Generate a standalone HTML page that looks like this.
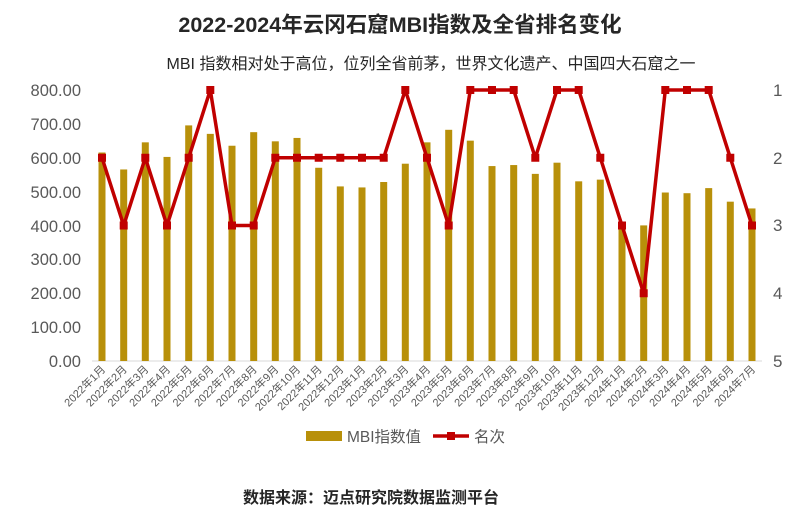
<!DOCTYPE html>
<html><head><meta charset="utf-8"><style>
html,body{margin:0;padding:0;background:#fff;}
svg text{font-family:"Liberation Sans","Noto Sans CJK SC",sans-serif;}
</style></head><body>
<svg width="800" height="513" viewBox="0 0 800 513" xmlns="http://www.w3.org/2000/svg">
<rect width="800" height="513" fill="#fff"/>
<text x="400" y="32" text-anchor="middle" font-size="21.5" font-weight="bold" fill="#262626">2022-2024年云冈石窟MBI指数及全省排名变化</text>
<text x="431" y="69" text-anchor="middle" font-size="16" fill="#262626">MBI 指数相对处于高位，位列全省前茅，世界文化遗产、中国四大石窟之一</text>
<g font-size="16.5" fill="#595959" text-anchor="end">
<text x="81" y="96">800.00</text><text x="81" y="130">700.00</text><text x="81" y="164">600.00</text><text x="81" y="198">500.00</text><text x="81" y="232">400.00</text><text x="81" y="265">300.00</text><text x="81" y="299">200.00</text><text x="81" y="333">100.00</text><text x="81" y="367">0.00</text>
</g>
<g font-size="17" fill="#595959">
<text x="773" y="96">1</text><text x="773" y="164">2</text><text x="773" y="231">3</text><text x="773" y="299">4</text><text x="773" y="367">5</text>
</g>
<line x1="92" y1="361" x2="762" y2="361" stroke="#d9d9d9" stroke-width="1"/>
<g transform="translate(0,361) scale(1,-0.339)" fill="#B8900A">
<rect x="98.5" y="0" width="7" height="615"/>
<rect x="120.2" y="0" width="7" height="565"/>
<rect x="141.8" y="0" width="7" height="645"/>
<rect x="163.5" y="0" width="7" height="602"/>
<rect x="185.2" y="0" width="7" height="695"/>
<rect x="206.8" y="0" width="7" height="670"/>
<rect x="228.5" y="0" width="7" height="635"/>
<rect x="250.2" y="0" width="7" height="675"/>
<rect x="271.8" y="0" width="7" height="648"/>
<rect x="293.5" y="0" width="7" height="658"/>
<rect x="315.2" y="0" width="7" height="570"/>
<rect x="336.8" y="0" width="7" height="515"/>
<rect x="358.5" y="0" width="7" height="512"/>
<rect x="380.2" y="0" width="7" height="528"/>
<rect x="401.8" y="0" width="7" height="582"/>
<rect x="423.5" y="0" width="7" height="645"/>
<rect x="445.2" y="0" width="7" height="682"/>
<rect x="466.8" y="0" width="7" height="650"/>
<rect x="488.5" y="0" width="7" height="575"/>
<rect x="510.2" y="0" width="7" height="578"/>
<rect x="531.8" y="0" width="7" height="552"/>
<rect x="553.5" y="0" width="7" height="585"/>
<rect x="575.2" y="0" width="7" height="530"/>
<rect x="596.8" y="0" width="7" height="535"/>
<rect x="618.5" y="0" width="7" height="400"/>
<rect x="640.2" y="0" width="7" height="400"/>
<rect x="661.8" y="0" width="7" height="497"/>
<rect x="683.5" y="0" width="7" height="495"/>
<rect x="705.2" y="0" width="7" height="510"/>
<rect x="726.8" y="0" width="7" height="470"/>
<rect x="748.5" y="0" width="7" height="450"/>
</g>
<polyline fill="none" stroke="#C00000" stroke-width="3.5" stroke-linejoin="round" points="102,157.75 123.7,225.5 145.3,157.75 167,225.5 188.7,157.75 210.3,90 232,225.5 253.7,225.5 275.3,157.75 297,157.75 318.7,157.75 340.3,157.75 362,157.75 383.7,157.75 405.3,90 427,157.75 448.7,225.5 470.3,90 492,90 513.7,90 535.3,157.75 557,90 578.7,90 600.3,157.75 622,225.5 643.7,293.25 665.3,90 687,90 708.7,90 730.3,157.75 752,225.5"/>
<g fill="#C00000">
<rect x="98" y="153.75" width="8" height="8"/><rect x="119.7" y="221.5" width="8" height="8"/><rect x="141.3" y="153.75" width="8" height="8"/><rect x="163" y="221.5" width="8" height="8"/><rect x="184.7" y="153.75" width="8" height="8"/><rect x="206.3" y="86" width="8" height="8"/><rect x="228" y="221.5" width="8" height="8"/><rect x="249.7" y="221.5" width="8" height="8"/><rect x="271.3" y="153.75" width="8" height="8"/><rect x="293" y="153.75" width="8" height="8"/><rect x="314.7" y="153.75" width="8" height="8"/><rect x="336.3" y="153.75" width="8" height="8"/><rect x="358" y="153.75" width="8" height="8"/><rect x="379.7" y="153.75" width="8" height="8"/><rect x="401.3" y="86" width="8" height="8"/><rect x="423" y="153.75" width="8" height="8"/><rect x="444.7" y="221.5" width="8" height="8"/><rect x="466.3" y="86" width="8" height="8"/><rect x="488" y="86" width="8" height="8"/><rect x="509.7" y="86" width="8" height="8"/><rect x="531.3" y="153.75" width="8" height="8"/><rect x="553" y="86" width="8" height="8"/><rect x="574.7" y="86" width="8" height="8"/><rect x="596.3" y="153.75" width="8" height="8"/><rect x="618" y="221.5" width="8" height="8"/><rect x="639.7" y="289.25" width="8" height="8"/><rect x="661.3" y="86" width="8" height="8"/><rect x="683" y="86" width="8" height="8"/><rect x="704.7" y="86" width="8" height="8"/><rect x="726.3" y="153.75" width="8" height="8"/><rect x="748" y="221.5" width="8" height="8"/>
</g>
<g font-size="11" fill="#595959" text-anchor="end">
<text transform="translate(106,370) rotate(-45)">2022年1月</text>
<text transform="translate(127.7,370) rotate(-45)">2022年2月</text>
<text transform="translate(149.3,370) rotate(-45)">2022年3月</text>
<text transform="translate(171,370) rotate(-45)">2022年4月</text>
<text transform="translate(192.7,370) rotate(-45)">2022年5月</text>
<text transform="translate(214.3,370) rotate(-45)">2022年6月</text>
<text transform="translate(236,370) rotate(-45)">2022年7月</text>
<text transform="translate(257.7,370) rotate(-45)">2022年8月</text>
<text transform="translate(279.3,370) rotate(-45)">2022年9月</text>
<text transform="translate(301,370) rotate(-45)">2022年10月</text>
<text transform="translate(322.7,370) rotate(-45)">2022年11月</text>
<text transform="translate(344.3,370) rotate(-45)">2022年12月</text>
<text transform="translate(366,370) rotate(-45)">2023年1月</text>
<text transform="translate(387.7,370) rotate(-45)">2023年2月</text>
<text transform="translate(409.3,370) rotate(-45)">2023年3月</text>
<text transform="translate(431,370) rotate(-45)">2023年4月</text>
<text transform="translate(452.7,370) rotate(-45)">2023年5月</text>
<text transform="translate(474.3,370) rotate(-45)">2023年6月</text>
<text transform="translate(496,370) rotate(-45)">2023年7月</text>
<text transform="translate(517.7,370) rotate(-45)">2023年8月</text>
<text transform="translate(539.3,370) rotate(-45)">2023年9月</text>
<text transform="translate(561,370) rotate(-45)">2023年10月</text>
<text transform="translate(582.7,370) rotate(-45)">2023年11月</text>
<text transform="translate(604.3,370) rotate(-45)">2023年12月</text>
<text transform="translate(626,370) rotate(-45)">2024年1月</text>
<text transform="translate(647.7,370) rotate(-45)">2024年2月</text>
<text transform="translate(669.3,370) rotate(-45)">2024年3月</text>
<text transform="translate(691,370) rotate(-45)">2024年4月</text>
<text transform="translate(712.7,370) rotate(-45)">2024年5月</text>
<text transform="translate(734.3,370) rotate(-45)">2024年6月</text>
<text transform="translate(756,370) rotate(-45)">2024年7月</text>
</g>
<rect x="306" y="431" width="36" height="10" fill="#B8900A"/>
<text x="347" y="442" font-size="15.5" fill="#595959">MBI指数值</text>
<line x1="433" y1="436" x2="469" y2="436" stroke="#C00000" stroke-width="3.5"/>
<rect x="447" y="432" width="8" height="8" fill="#C00000"/>
<text x="474" y="442" font-size="15.5" fill="#595959">名次</text>
<text x="371" y="503" text-anchor="middle" font-size="16" font-weight="bold" fill="#262626">数据来源：迈点研究院数据监测平台</text>
</svg>
</body></html>
